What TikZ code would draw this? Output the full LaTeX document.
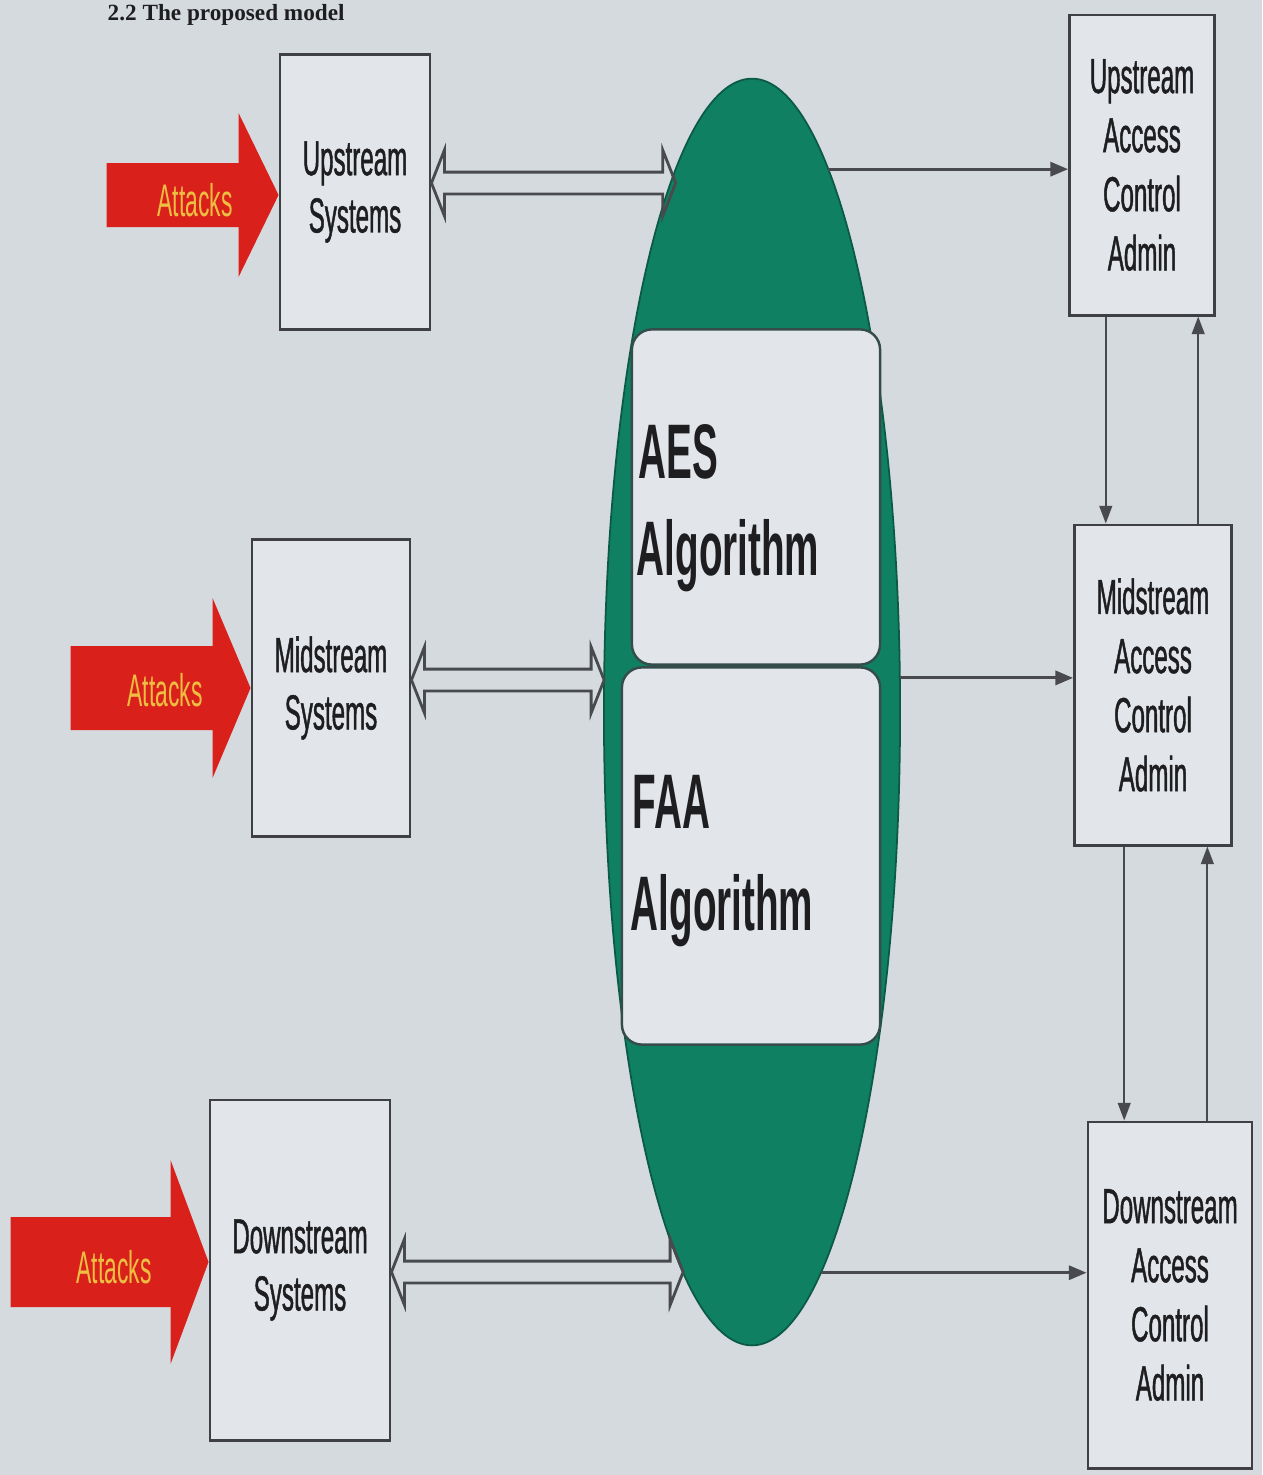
\documentclass[tikz,border=0pt]{standalone}
\usepackage{fontspec}
\setmainfont{Liberation Sans}
\newfontfamily\narrowsans[FakeStretch=0.5]{Liberation Sans}
\newfontfamily\narrowheavy[FakeStretch=0.49,FakeBold=0.9]{Liberation Sans}
\newfontfamily\headserif{Liberation Serif}
\usetikzlibrary{shapes.geometric,arrows.meta,calc}

\definecolor{paper}{RGB}{213,218,223}
\definecolor{boxfill}{RGB}{226,230,235}
\definecolor{boxline}{RGB}{62,64,68}
\definecolor{linkcol}{RGB}{72,74,78}
\definecolor{attackred}{RGB}{218,32,26}
\definecolor{attackyellow}{RGB}{238,190,66}
\definecolor{cipher}{RGB}{16,128,98}
\definecolor{textdark}{RGB}{30,30,32}

% outlined two-way arrow between two points (same height as the first one)
\newcommand\duplexarrow[2]{%
  \draw[duplex] let \p1=(#1), \p2=(#2) in
    (\x1,\y1) -- (\x1+3.7pt,\y1+9.4pt) -- (\x1+3.7pt,\y1+3.1pt)
    -- (\x2-3.7pt,\y1+3.1pt) -- (\x2-3.7pt,\y1+9.4pt) -- (\x2,\y1)
    -- (\x2-3.7pt,\y1-9.4pt) -- (\x2-3.7pt,\y1-3.1pt)
    -- (\x1+3.7pt,\y1-3.1pt) -- (\x1+3.7pt,\y1-9.4pt) -- cycle;}

\begin{document}
\begin{tikzpicture}[x=0.01cm, y=-0.01cm,
  sysbox/.style={draw=boxline, fill=boxfill, line width=0.8pt, inner sep=0pt,
    align=center, text=textdark,
    font=\narrowheavy\fontsize{14}{16.3}\selectfont},
  adminbox/.style={sysbox, font=\narrowheavy\fontsize{14}{16.8}\selectfont},
  algobox/.style={draw=boxline!80!cipher, fill=boxfill, line width=0.7pt,
    rounded corners=0.2cm, inner sep=0pt},
  algotext/.style={anchor=base west, inner sep=0pt, text=textdark,
    font=\narrowsans\bfseries\fontsize{22}{26}\selectfont},
  attack/.style={fill=attackred},
  attacktext/.style={inner sep=0pt, text=attackyellow,
    font=\narrowsans\fontsize{13}{15}\selectfont},
  duplex/.style={draw=linkcol, line width=0.8pt, line join=miter},
  link/.style={draw=linkcol, line width=0.8pt, -{Triangle[length=5pt,width=4pt]}},
  vlink/.style={draw=linkcol, line width=0.6pt, -{Triangle[length=5pt,width=3.6pt]}}
]
\fill[paper] (0,0) rectangle (1262,1475);
\useasboundingbox (0,0) rectangle (1262,1475);

% section heading
\node[anchor=base west, inner sep=0pt, text=textdark,
  font=\headserif\bfseries\fontsize{6.6}{8}\selectfont] (heading) at (107,20)
  {2.2 The proposed model};

% central cipher ellipse with its two algorithm blocks
\node[ellipse, fill=cipher, draw=cipher!70!black, line width=0.5pt,
  minimum width=2.96cm, minimum height=12.66cm, inner sep=0pt, outer sep=0pt]
  (ell) at (752,712) {};
\node[algobox, minimum width=2.48cm, minimum height=3.35cm] (aes) at (756,497) {};
\node[algobox, minimum width=2.58cm, minimum height=3.77cm] (faa) at (751,856) {};
\node[algotext] (aesA) at (638,478) {AES};
\node[algotext] (aesB) at (636,575) {Algorithm};
\node[algotext] (faaA) at (632,828) {FAA};
\node[algotext] (faaB) at (630,930) {Algorithm};

% systems under attack
\node[sysbox, minimum width=1.5cm,  minimum height=2.75cm] (us) at (355,192)  {Upstream\\Systems};
\node[sysbox, minimum width=1.58cm, minimum height=2.97cm] (ms) at (331,688)  {Midstream\\Systems};
\node[sysbox, minimum width=1.8cm,  minimum height=3.4cm]  (ds) at (300,1270) {Downstream\\Systems};

% access control administration
\node[adminbox, minimum width=1.45cm, minimum height=3.0cm]  (uaca) at (1142,165)  {Upstream\\Access\\Control\\Admin};
\node[adminbox, minimum width=1.57cm, minimum height=3.2cm]  (maca) at (1153,685)  {Midstream\\Access\\Control\\Admin};
\node[adminbox, minimum width=1.64cm, minimum height=3.46cm] (daca) at (1170,1295) {Downstream\\Access\\Control\\Admin};

% attack arrows
\coordinate (t1) at ($(us.west)+(0,3)$);
\fill[attack] (t1) -- ++(-40,-82) -- ++(0,50) -- ++(-132,0) -- ++(0,64)
  -- ++(132,0) -- ++(0,50) -- cycle;
\coordinate (t2) at (ms.west);
\fill[attack] (t2) -- ++(-38,-90) -- ++(0,48) -- ++(-142,0) -- ++(0,84)
  -- ++(142,0) -- ++(0,48) -- cycle;
\coordinate (t3) at ($(ds.west)+(0,-8)$);
\fill[attack] (t3) -- ++(-38,-102) -- ++(0,57) -- ++(-160,0) -- ++(0,90)
  -- ++(160,0) -- ++(0,57) -- cycle;
\node[attacktext] (att1) at (195,200)  {Attacks};
\node[attacktext] (att2) at (165,690)  {Attacks};
\node[attacktext] (att3) at (114,1267) {Attacks};

% two-way links between the systems and the ciphers
\coordinate (usR) at ($(us.east)+(0,-9)$);
\coordinate (usE) at (ell.98.7 |- usR);
\duplexarrow{usR}{usE}
\coordinate (msR) at ($(ms.east)+(0,-8)$);
\coordinate (msE) at (ell.167.8 |- msR);
\duplexarrow{msR}{msE}
\coordinate (dsR) at ($(ds.east)+(0,2)$);
\coordinate (dsE) at (ell.263 |- dsR);
\duplexarrow{dsR}{dsE}

% ciphers to access control
\draw[link] (ell.82.8) -- (ell.82.8 -| uaca.west);
\draw[link] (ell.13.7) -- (ell.13.7 -| maca.west);
\draw[link] (ell.-83.8) -- (ell.-83.8 -| daca.west);

% exchanges between the access control levels
\coordinate (u1) at ($(uaca.south west)!0.255!(uaca.south east)$);
\coordinate (u2) at ($(uaca.south west)!0.88!(uaca.south east)$);
\draw[vlink] (u1) -- (u1 |- maca.north);
\draw[vlink] (u2 |- maca.north) -- (u2);
\coordinate (m1) at ($(maca.south west)!0.32!(maca.south east)$);
\coordinate (m2) at ($(maca.south west)!0.84!(maca.south east)$);
\draw[vlink] (m1) -- (m1 |- daca.north);
\draw[vlink] (m2 |- daca.north) -- (m2);
\end{tikzpicture}
\end{document}
